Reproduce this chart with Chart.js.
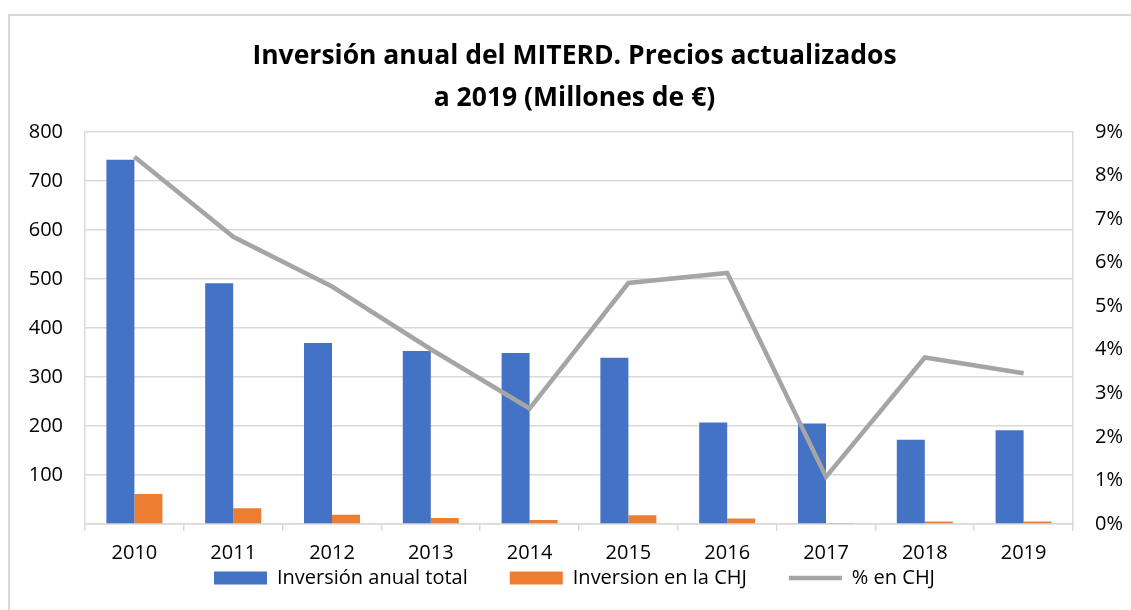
<!DOCTYPE html>
<html>
<head>
<meta charset="utf-8">
<script src="https://cdn.jsdelivr.net/npm/chart.js@4"></script>
<style>
  html, body { margin: 0; padding: 0; background: #fff; }
  #frame { position: absolute; left: 8px; top: 14px; width: 1200px; height: 700px;
           border-left: 2px solid #d9d9d9; border-top: 2px solid #d9d9d9; }
  #wrap { position: absolute; left: 0; top: 0; width: 1131px; height: 610px; }
</style>
</head>
<body>
<div id="frame"></div>
<div id="wrap"><canvas id="myChart" width="1131" height="610"></canvas></div>
<script>
var years = ['2010', '2011', '2012', '2013', '2014', '2015', '2016', '2017', '2018', '2019'];
var inversionTotal = [743, 491, 369, 353, 349, 339, 207, 205, 172, 191];
var inversionCHJ = [61, 32, 19, 12, 8, 18, 11, 1, 5, 5];
var pctCHJ = [0.0843, 0.0659, 0.0545, 0.0401, 0.0265, 0.0553, 0.0576, 0.0108, 0.0382, 0.0346];
var legendStyles = ['rect', 'rect', 'line'];

var font = "'Open Sans', sans-serif";

// legend padding gives the wide gaps between items; pull the box up so it doesn't eat vertical space
var legendShift = {
    id: 'legendShift',
    afterInit: function (chart) {
        var lg = chart.legend;
        var D = 49;
        var fit = lg.fit;
        lg.fit = function () { fit.call(this); this.height -= D; };
        var draw = lg.draw;
        lg.draw = function () { this.top -= D; draw.apply(this, arguments); this.top += D; };
    }
};

var ctx = document.getElementById('myChart').getContext('2d');
var myChart = new Chart(ctx, {
    type: 'bar',
    data: {
        labels: years,
        datasets: [{
            label: 'Inversión anual total',
            data: inversionTotal,
            backgroundColor: '#4472C4',
            yAxisID: 'y',
            order: 2
        }, {
            label: 'Inversion en la CHJ',
            data: inversionCHJ,
            backgroundColor: '#ED7D31',
            yAxisID: 'y',
            order: 2
        }, {
            type: 'line',
            label: '% en CHJ',
            data: pctCHJ,
            borderColor: '#A5A5A5',
            backgroundColor: '#A5A5A5',
            borderWidth: 4.5,
            pointRadius: 0,
            tension: 0,
            yAxisID: 'y1',
            order: 1
        }]
    },
    plugins: [legendShift],
    options: {
        responsive: false,
        animation: false,
        layout: { padding: { left: 18, right: 0, top: 0, bottom: 12 } },
        datasets: {
            bar: { categoryPercentage: 0.567, barPercentage: 1 }
        },
        plugins: {
            title: {
                display: true,
                text: ['Inversión anual del MITERD. Precios actualizados', 'a 2019 (Millones de €)'],
                color: '#000',
                font: { family: font, size: 26.5, weight: 'bold', lineHeight: 1.6 },
                padding: { top: 35, bottom: 12 }
            },
            legend: {
                position: 'bottom',
                labels: {
                    color: '#000',
                    font: { family: font, size: 20 },
                    usePointStyle: true,
                    pointStyleWidth: 53,
                    boxHeight: 13,
                    padding: 42,
                    generateLabels: function (chart) {
                        var items = Chart.defaults.plugins.legend.labels.generateLabels(chart);
                        items.sort(function (a, b) { return a.datasetIndex - b.datasetIndex; });
                        items.forEach(function (it) {
                            it.pointStyle = legendStyles[it.datasetIndex];
                            if (it.pointStyle === 'line') { it.lineWidth = 4.5; }
                        });
                        return items;
                    }
                }
            },
            tooltip: { enabled: false }
        },
        scales: {
            x: {
                grid: {
                    offset: true,
                    drawOnChartArea: false,
                    drawTicks: true,
                    tickLength: 7,
                    color: '#d9d9d9',
                    lineWidth: 1.5
                },
                border: { color: '#d9d9d9', width: 1.5 },
                ticks: { color: '#000', font: { family: font, size: 20 }, padding: 10 }
            },
            y: {
                position: 'left',
                min: 0,
                max: 800,
                afterFit: function (scale) { scale.width = 67; },
                ticks: {
                    stepSize: 100,
                    color: '#000',
                    font: { family: font, size: 20 },
                    padding: 22,
                    callback: function (v) { return v === 0 ? '' : v; }
                },
                grid: { color: '#d9d9d9', lineWidth: 1.5, drawTicks: false },
                border: { color: '#d9d9d9', width: 1.5 }
            },
            y1: {
                position: 'right',
                min: 0,
                max: 0.09,
                afterFit: function (scale) { scale.width = 58; },
                ticks: {
                    stepSize: 0.01,
                    color: '#000',
                    font: { family: font, size: 20 },
                    padding: 22,
                    callback: function (v) { return Math.round(v * 100) + '%'; }
                },
                grid: { drawOnChartArea: false, drawTicks: false },
                border: { color: '#d9d9d9', width: 1.5 }
            }
        }
    }
});
</script>
</body>
</html>
